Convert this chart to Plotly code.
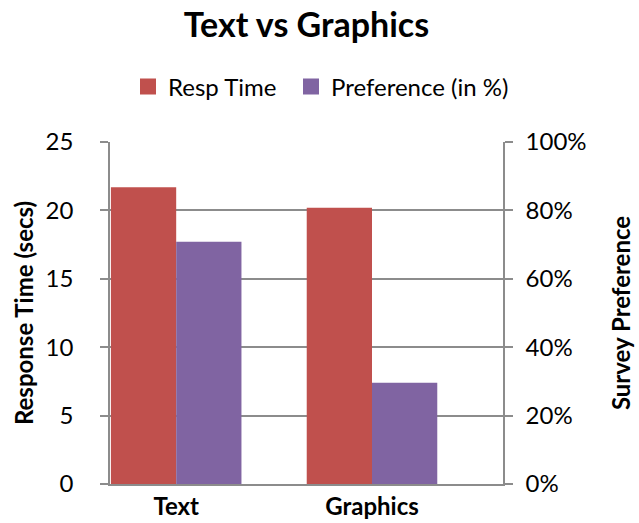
import plotly.graph_objects as go

categories = ["Text", "Graphics"]
resp_time = [21.7, 20.2]
preference = [70.8, 29.6]
series_names = ["Resp Time", "Preference (in %)"]
series_colors = ["#C0504D", "#8064A2"]
legend_ids = ["legend", "legend2"]
left_ticks = [0, 5, 10, 15, 20, 25]
right_ticks = [0, 20, 40, 60, 80, 100]
right_labels = ["0%", "20%", "40%", "60%", "80%", "100%"]

FONT = "Lato"
GRID = "#8c8c8c"
FS = 24

fig = go.Figure()
fig.add_trace(go.Bar(x=[0, 1], y=resp_time, name=series_names[0], marker_color=series_colors[0],
                     marker_line_width=0, offsetgroup="a", yaxis="y", showlegend=False))
fig.add_trace(go.Bar(x=[0, 1], y=preference, name=series_names[1], marker_color=series_colors[1],
                     marker_line_width=0, offsetgroup="b", yaxis="y2", showlegend=False))
# legend entries with larger square swatches, one legend box each
for nm, col, lg in zip(series_names, series_colors, legend_ids):
    fig.add_trace(go.Scatter(x=[None], y=[None], mode="markers", name=nm, legend=lg,
                             marker=dict(symbol="square", size=16, color=col, line=dict(width=0))))

legend_common = dict(orientation="h", xanchor="left", xref="container",
                     y=1 - 87 / 523, yanchor="middle", yref="container",
                     font=dict(size=FS), itemwidth=30, bgcolor="rgba(0,0,0,0)")

fig.update_layout(
    width=639, height=523,
    margin=dict(l=110, r=136, t=141.5, b=38.5),
    paper_bgcolor="white", plot_bgcolor="white",
    font=dict(family=FONT, size=FS, color="black"),
    title=dict(text="<b>Text vs Graphics</b>", x=0.5, xanchor="center", xref="paper",
               y=1 - 25 / 523, yanchor="middle", yref="container",
               font=dict(size=34, family=FONT)),
    barmode="group", bargap=1/3, bargroupgap=0,
    legend=dict(x=128 / 639, **legend_common),
    legend2=dict(x=291 / 639, **legend_common),
    xaxis=dict(range=[-0.338, 1.669], tickvals=[0, 1], ticktext=["<b>%s</b>" % c for c in categories],
               showline=True, linecolor=GRID, linewidth=1.5, ticks="", showgrid=False,
               tickfont=dict(size=FS), zeroline=False, automargin=False, ticklabelstandoff=0),
    yaxis=dict(range=[0, 25], tickvals=left_ticks, showgrid=True, gridcolor=GRID, gridwidth=1.5,
               showline=True, linecolor=GRID, linewidth=1.5, ticks="outside", ticklen=8,
               tickcolor=GRID, tickwidth=1.5, zeroline=False, automargin=False, ticklabelstandoff=22,
               title=dict(text="<b>Response Time (secs)</b>", font=dict(size=FS), standoff=5)),
    yaxis2=dict(range=[0, 100], tickvals=right_ticks, ticktext=right_labels, overlaying="y", side="right",
                showgrid=False, showline=True, linecolor=GRID, linewidth=1.5, ticks="outside", ticklen=8,
                tickcolor=GRID, tickwidth=1.5, zeroline=False, automargin=False, ticklabelstandoff=8,
                title=dict(text="<b>Survey Preference</b>", font=dict(size=FS), standoff=28)),
)

fig.write_html("out.html", config={"displayModeBar": False},
               post_script="document.body.style.margin='0';")
